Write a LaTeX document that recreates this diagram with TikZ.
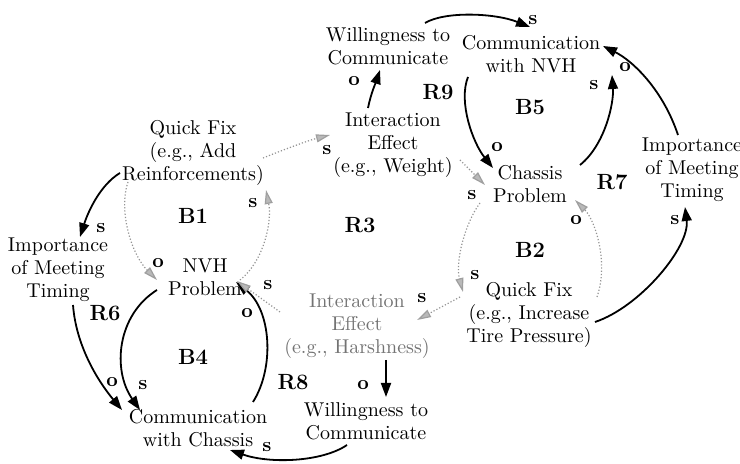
\documentclass[tikz,border=0pt]{standalone}
\usetikzlibrary{arrows.meta,calc}
\begin{document}
\begin{tikzpicture}[
 x=0.5pt, y=-0.5pt,
 txt/.style={align=center, font=\fontsize{10}{11.5}\selectfont, inner sep=1pt},
 lbl/.style={font=\bfseries\fontsize{10}{11}\selectfont, inner sep=0pt},
 looplbl/.style={font=\bfseries\fontsize{11}{12}\selectfont, inner sep=0pt},
 sol/.style={line width=0.9pt, -{Triangle[length=7pt,width=5pt]}},
 dot/.style={gray!85, line width=0.6pt, densely dotted, -{Triangle[length=7pt,width=4pt,fill=gray!55,color=gray!75]}}
]
\useasboundingbox (0,0) rectangle (740,464);

% variables
\node[txt] (wtop) at (388,46) {Willingness to\\Communicate};
\node[txt] (cnvh) at (531,54) {Communication\\with NVH};
\node[txt] (iew)  at (393,145) {Interaction\\Effect\\(e.g., Weight)};
\node[txt] (chp)  at (530,184) {Chassis\\Problem};
\node[txt] (imr)  at (692,170) {Importance\\of Meeting\\Timing};
\node[txt] (qfa)  at (193,153) {Quick Fix\\(e.g., Add\\Reinforcements)};
\node[txt] (iml)  at (58,270) {Importance\\of Meeting\\Timing};
\node[txt] (nvh)  at (205,277) {NVH\\Problem};
\node[txt, text=black!55] (ieh) at (357,326) {Interaction\\Effect\\(e.g., Harshness)};
\node[txt] (cch)  at (198,428) {Communication\\with Chassis};
\node[txt] (wbot) at (366,421) {Willingness to\\Communicate};
\node[txt] (qft)  at (529,315) {Quick Fix\\(e.g., Increase\\Tire Pressure)};

% loop labels
\node[looplbl] (R9) at (438,92) {R9};
\node[looplbl] (B5) at (530,107) {B5};
\node[looplbl] (R7) at (612,182) {R7};
\node[looplbl] (R3) at (360,225) {R3};
\node[looplbl] (B1) at (193,216) {B1};
\node[looplbl] (R6) at (105,313) {R6};
\node[looplbl] (B4) at (193,357) {B4};
\node[looplbl] (R8) at (293,382) {R8};
\node[looplbl] (B2) at (530,250) {B2};

% solid links
\draw[sol] ($(wtop)+(37,-23)$) .. controls +(20,-12) and +(-35,-14) .. ($(cnvh)+(-1,-27)$);
\draw[sol] ($(iew)+(-25,-37)$) .. controls +(3,-15) and +(-4,12) .. ($(wtop)+(-8,24)$);
\draw[sol] ($(cnvh)+(-63,23)$) .. controls +(-10,25) and +(-20,-25) .. ($(chp)+(-37,-16)$);
\draw[sol] ($(chp)+(50,-19)$) .. controls +(25,-20) and +(2,28) .. ($(cnvh)+(81,21)$);
\draw[sol] ($(imr)+(-14,-35)$) .. controls +(-15,-45) and +(30,15) .. ($(cnvh)+(72,-8)$);
\draw[sol] ($(qft)+(66,7)$) .. controls +(45,-15) and +(5,40) .. ($(imr)+(-7,37)$);
\draw[sol] ($(qfa)+(-73,20)$) .. controls +(-20,12) and +(8,-25) .. ($(iml)+(22,-33)$);
\draw[sol] ($(iml)+(15,35)$) .. controls +(3,40) and +(-25,-30) .. ($(cch)+(-76,-18)$);
\draw[sol] ($(nvh)+(-48,13)$) .. controls +(-40,25) and +(-28,-40) .. ($(cch)+(-58,-18)$);
\draw[sol] ($(cch)+(55,-26)$) .. controls +(22,-35) and +(35,28) .. ($(nvh)+(31,5)$);
\draw[sol] ($(ieh)+(29,34)$) -- ($(wbot)+(20,-24)$);
\draw[sol] ($(wbot)+(-19,24)$) .. controls +(-25,17) and +(40,14) .. ($(cch)+(32,22)$);

% dotted links
\draw[dot] ($(qfa)+(70,5)$) .. controls +(25,-10) and +(-20,5) .. ($(iew)+(-63,-10)$);
\draw[dot] ($(qfa)+(-65,29)$) .. controls +(-10,30) and +(-25,-25) .. ($(nvh)+(-48,3)$);
\draw[dot] ($(nvh)+(35,3)$) .. controls +(25,-20) and +(6,30) .. ($(qfa)+(73,37)$);
\draw[dot] ($(iew)+(67,15)$) -- ($(chp)+(-45,1)$);
\draw[dot] ($(chp)+(-50,19)$) .. controls +(-15,20) and +(-8,-30) .. ($(qft)+(-66,-23)$);
\draw[dot] ($(qft)+(-69,-18)$) -- ($(ieh)+(60,-6)$);
\draw[dot] ($(ieh)+(-77,-14)$) -- ($(nvh)+(32,4)$);
\draw[dot] ($(qft)+(68,-18)$) .. controls +(12,-35) and +(20,20) .. ($(chp)+(45,16)$);

% polarity labels
\node[lbl] (p1) at (533,20) {s};
\node[lbl] (p2) at (354,81) {o};
\node[lbl] (p3) at (497,147) {o};
\node[lbl] (p4) at (594,85) {s};
\node[lbl] (p5) at (625,67) {o};
\node[lbl] (p6) at (675,220) {s};
\node[lbl] (p7) at (101,228) {s};
\node[lbl] (p8) at (112,382) {o};
\node[lbl] (p9) at (143,385) {s};
\node[lbl] (p10) at (247,313) {o};
\node[lbl] (p11) at (363,385) {o};
\node[lbl] (p12) at (267,447) {s};
\node[lbl] (pa) at (327,150) {s};
\node[lbl] (pb) at (158,263) {o};
\node[lbl] (pc) at (253,203) {s};
\node[lbl] (pd) at (472,195) {s};
\node[lbl] (pe) at (475,275) {s};
\node[lbl] (pf) at (422,298) {s};
\node[lbl] (pg) at (268,285) {s};
\node[lbl] (ph) at (576,220) {o};
\end{tikzpicture}
\end{document}
